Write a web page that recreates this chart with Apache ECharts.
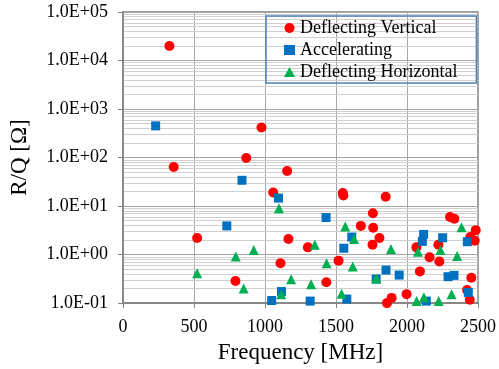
<!DOCTYPE html>
<html>
<head>
<meta charset="utf-8">
<script src="https://cdn.jsdelivr.net/npm/echarts@6/dist/echarts.min.js"></script>
<style>
  html, body { margin: 0; padding: 0; background: #fff; }
  #chart { width: 499px; height: 369px; }
</style>
</head>
<body>
<div id="chart"></div>
<script>
// Deflecting Vertical (red circles)
const vertFreq = [327, 357, 522, 792, 868, 975, 1058, 1109, 1156, 1165, 1302, 1432, 1518, 1548, 1552,
  1675, 1760, 1762, 1757, 1806, 1850, 1859, 1892, 1997, 2066, 2091, 2159, 2221, 2228, 2303, 2333,
  2423, 2442, 2446, 2453, 2477, 2484];
const vertRQ = [20000, 64, 2.2, 0.285, 98, 415, 19, 0.66, 53, 2.1, 1.41, 0.27, 0.75, 18.5, 16.5,
  3.9, 7.1, 3.56, 1.6, 2.19, 15.5, 0.1, 0.128, 0.153, 1.41, 0.45, 0.88, 1.6, 0.72, 5.97, 5.5,
  0.187, 0.117, 2.3, 0.334, 1.93, 3.19];

// Accelerating (blue squares)
const accFreq = [230, 731, 838, 1047, 1095, 1116, 1318, 1430, 1555, 1576, 1611, 1783, 1852, 1945,
  2108, 2117, 2136, 2251, 2289, 2331, 2425, 2432];
const accRQ = [450, 3.9, 34, 0.113, 14.6, 0.173, 0.11, 5.8, 1.35, 0.121, 2.3, 0.313, 0.478, 0.378,
  1.87, 2.6, 0.11, 2.22, 0.35, 0.373, 1.84, 0.165];

// Deflecting Horizontal (green triangles)
const horFreq = [522, 794, 850, 921, 1098, 1114, 1184, 1325, 1351, 1434, 1539, 1565, 1618, 1627,
  1783, 1887, 2068, 2077, 2119, 2223, 2235, 2314, 2353, 2384];
const horRQ = [0.41, 0.91, 0.2, 1.25, 9.0, 0.153, 0.31, 0.244, 1.6, 0.665, 0.155, 3.8, 0.57, 2.09,
  0.32, 1.31, 0.111, 1.15, 0.132, 0.111, 1.25, 0.153, 0.94, 3.67];

const seriesNames = ['Deflecting Vertical', 'Accelerating', 'Deflecting Horizontal'];
const xTicks = [0, 500, 1000, 1500, 2000, 2500];

const font = 'Liberation Serif';

// light minor grid lines at 2..9 of each decade
const minorLines = [];
for (let k = -1; k < 5; k++) {
  for (let m = 2; m <= 9; m++) {
    minorLines.push({ yAxis: m * Math.pow(10, k) });
  }
}

const pairs = (xs, ys) => xs.map((x, i) => [x, ys[i]]);

const chart = echarts.init(document.getElementById('chart'));

const option = {
  animation: false,
  grid: {
    left: 122,
    right: 18,
    top: 12,
    bottom: 62,
    show: true,
    borderColor: '#808080',
    borderWidth: 1.5
  },
  legend: {
    orient: 'vertical',
    left: 266,
    top: 16,
    padding: [3, 19, 2, 18],
    itemGap: 4,
    itemWidth: 11,
    itemHeight: 10,
    borderColor: '#4F81BD',
    borderWidth: 1.5,
    z: 10,
    textStyle: { fontFamily: font, fontSize: 18, color: '#000' },
    data: [
      { name: seriesNames[0], icon: 'circle' },
      { name: seriesNames[1], icon: 'rect' },
      { name: seriesNames[2], icon: 'triangle' }
    ]
  },
  xAxis: {
    type: 'value',
    min: xTicks[0],
    max: xTicks[xTicks.length - 1],
    interval: 500,
    name: 'Frequency [MHz]',
    nameLocation: 'middle',
    nameGap: 34,
    nameTextStyle: { fontFamily: font, fontSize: 23, color: '#000' },
    axisLine: { onZero: false, lineStyle: { color: '#808080', width: 1.5 } },
    axisTick: { show: true, inside: false, length: 5, lineStyle: { color: '#808080' } },
    axisLabel: {
      margin: 15, fontFamily: font, fontSize: 18, color: '#000',
      formatter: v => String(v)
    },
    splitLine: { show: true, lineStyle: { color: '#a6a6a6', width: 1 } }
  },
  yAxis: {
    type: 'log',
    logBase: 10,
    min: 0.1,
    max: 100000,
    name: 'R/Q [Ω]',
    nameLocation: 'middle',
    nameGap: 92,
    nameTextStyle: { fontFamily: font, fontSize: 23, color: '#000' },
    axisLine: { show: true, lineStyle: { color: '#808080', width: 1.5 } },
    axisTick: { show: true, inside: false, length: 5, lineStyle: { color: '#808080' } },
    axisLabel: {
      margin: 15,
      fontFamily: font,
      fontSize: 18,
      color: '#000',
      formatter: v => {
        const e = Math.round(Math.log10(v));
        return '1.0E' + (e < 0 ? '-' : '+') + String(Math.abs(e)).padStart(2, '0');
      }
    },
    splitLine: { show: true, lineStyle: { color: '#a6a6a6', width: 1 } }
  },
  series: [
    {
      name: 'minor',
      type: 'scatter',
      data: [],
      silent: true,
      z: 0,
      markLine: {
        silent: true,
        z: 0,
        symbol: ['none', 'none'],
        label: { show: false },
        animation: false,
        lineStyle: { color: '#d0d0d0', type: 'solid', width: 1 },
        data: minorLines
      }
    },
    {
      name: seriesNames[0],
      type: 'scatter',
      symbol: 'circle',
      symbolSize: 10,
      z: 3,
      itemStyle: { color: '#FF0000', opacity: 1 },
      data: pairs(vertFreq, vertRQ)
    },
    {
      name: seriesNames[1],
      type: 'scatter',
      symbol: 'rect',
      symbolSize: 9,
      z: 4,
      itemStyle: { color: '#0070C0', opacity: 1 },
      data: pairs(accFreq, accRQ)
    },
    {
      name: seriesNames[2],
      type: 'scatter',
      symbol: 'triangle',
      symbolSize: 10,
      z: 5,
      itemStyle: { color: '#00B050', opacity: 1 },
      data: pairs(horFreq, horRQ)
    }
  ]
};

chart.setOption(option);
</script>
</body>
</html>
